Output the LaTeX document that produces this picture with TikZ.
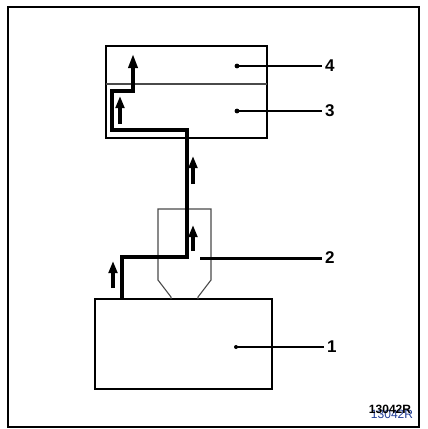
\documentclass[tikz,border=0pt]{standalone}
\usepackage{fontspec}
\setmainfont{Liberation Sans}
\usetikzlibrary{arrows.meta,positioning,calc}
\definecolor{Wire}{HTML}{000000}
\definecolor{Thin}{HTML}{4A4A4A}
\definecolor{Stamp}{HTML}{1F3C96}
\tikzset{
  frame/.style={draw=black, line width=2.6pt},
  unit/.style={draw=black, line width=2pt, inner sep=0pt, outer sep=0pt},
  thinline/.style={draw=Thin, line width=1.1pt},
  flow/.style={draw=Wire, line width=3.4pt, line join=miter},
  flowtip/.style={-{Triangle[length=14pt,width=9pt]}, draw=Wire, line width=3.4pt},
  leader/.style={draw=black, line width=1.8pt},
  num/.style={font=\fontsize{17}{17}\selectfont\bfseries, anchor=west, inner sep=3pt},
}
\begin{document}
\begin{tikzpicture}[x=1pt,y=-1pt]
  \useasboundingbox (0,0) rectangle (428,429);
  \draw[frame] (8,7) rectangle (419,427);

  % the two units
  \node[unit, minimum width=161pt, minimum height=92pt] (upper) at (186.5,92) {};
  \node[unit, minimum width=177pt, minimum height=90pt] (lower) at (183.5,344) {};
  \coordinate (split) at (0,84);
  \draw[thinline] (upper.west |- split) -- (upper.east |- split);

  % part 2
  \coordinate (vl) at (158,209);
  \coordinate (vr) at (211,209);
  \draw[thinline] (171,299) -- (171,297) -- (158,280) -- (vl) -- (vr)
                  -- (211,280) -- (198,297) -- (198,299);

  % flow path
  \coordinate (start) at (122,299);
  \draw[flow, flowtip] (start) |- (187,257) |- (112,130) |- (133,91) -- (133,54);
  \foreach \x/\ya/\yb in {113/288/261, 193/251/225, 193/184/156, 120/124/96}
    \draw[flowtip, -{Triangle[length=12pt,width=8.5pt]}] (\x,\ya) -- (\x,\yb);

  % numbers
  \node[num] (n4) at (322,66) {4};
  \node[num] (n3) at (322,111) {3};
  \node[num] (n2) at (322,258) {2};
  \node[num] (n1) at (324,347) {1};
  \coordinate (d4) at (237,66);
  \coordinate (d3) at (237,111);
  \coordinate (d2) at (200,258);
  \coordinate (d1) at (236,347);
  \fill (d4) circle (2.4pt) (d3) circle (2.4pt) (d1) circle (2pt);
  \draw[leader] (d4) -- (n4.west);
  \draw[leader] (d3) -- (n3.west);
  \draw[leader, line width=3pt] (d2) -- (n2.west);
  \draw[leader, line width=1.3pt] (d1) -- (n1.west);

  % reference
  \node[font=\fontsize{12}{12}\selectfont, text=Stamp] (refb) at (392,414) {13042R};
  \node[font=\fontsize{12}{12}\selectfont\bfseries] (refa) at (390,409) {13042R};
\end{tikzpicture}
\end{document}
